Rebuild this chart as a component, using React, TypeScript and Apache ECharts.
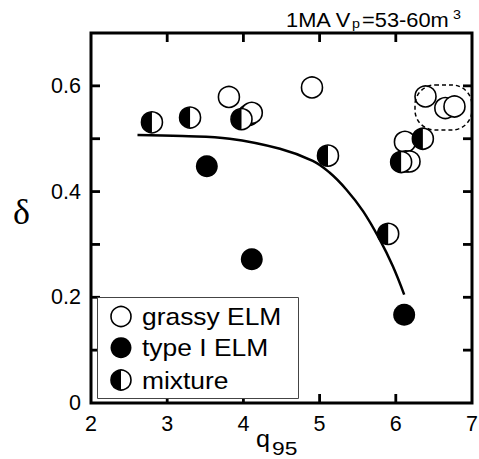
import React, { useEffect, useRef } from "react";
import * as echarts from "echarts";

// q95 and triangularity for each ELM regime
const grassyELM: [number, number][] = [
  [3.81, 0.579],
  [4.07, 0.545],
  [4.11, 0.549],
  [4.9, 0.597],
  [6.39, 0.58],
  [6.65, 0.558],
  [6.77, 0.561],
  [6.12, 0.494],
  [6.13, 0.457],
  [6.18, 0.457],
];

const typeIELM: [number, number][] = [
  [3.52, 0.448],
  [4.11, 0.272],
  [6.11, 0.167],
];

const mixtureELM: [number, number][] = [
  [2.8, 0.531],
  [3.3, 0.54],
  [3.975, 0.537],
  [5.11, 0.468],
  [5.9, 0.32],
  [6.07, 0.456],
  [6.355, 0.5],
];

// boundary curve
const boundary: [number, number][] = [
  [2.61, 0.507],
  [3.2, 0.505],
  [3.82, 0.5],
  [4.48, 0.481],
  [4.91, 0.458],
  [5.13, 0.436],
  [5.35, 0.404],
  [5.57, 0.363],
  [5.79, 0.309],
  [5.96, 0.259],
  [6.11, 0.205],
];

const xTicks = [2, 3, 4, 5, 6, 7];
const yTicks = [0, 0.1, 0.2, 0.3, 0.4, 0.5, 0.6, 0.7];
const legendLabels = ["grassy ELM", "type I ELM", "mixture"];

const SANS = "Liberation Sans, Arial, sans-serif";
const R = 10.5;
const TICK_LEN = 9;

const GRID = { left: 91, right: 7, top: 33, bottom: 56 };
const W = 479;
const H = 459;

const X_MIN = xTicks[0];
const X_MAX = xTicks[xTicks.length - 1];
const Y_MIN = yTicks[0];
const Y_MAX = yTicks[yTicks.length - 1];

const tickStyle = { stroke: "#000", lineWidth: 2.8 };

export default function App() {
  const ref = useRef<HTMLDivElement>(null);

  useEffect(() => {
    if (!ref.current) return;
    const chart = echarts.init(ref.current, null, { renderer: "svg" });

    const legendY = [316.5, 347.7, 380];
    const legendX = 121;

    chart.setOption({
      animation: false,
      backgroundColor: "#fff",
      grid: { ...GRID, containLabel: false, outerBoundsMode: "none" },
      xAxis: {
        type: "value",
        min: X_MIN,
        max: X_MAX,
        interval: 1,
        position: "bottom",
        axisLine: { show: false },
        axisTick: { show: false },
        splitLine: { show: false },
        axisLabel: { fontSize: 21.5, color: "#000", margin: 10, fontFamily: SANS },
      },
      yAxis: {
        type: "value",
        min: Y_MIN,
        max: Y_MAX,
        interval: 0.1,
        position: "left",
        axisLine: { show: false },
        axisTick: { show: false },
        splitLine: { show: false },
        axisLabel: {
          fontSize: 21.5,
          color: "#000",
          margin: 10,
          fontFamily: SANS,
          formatter: (v: number) => {
            const k = Math.round(v * 10);
            if (k % 2 !== 0) return "";
            return k === 0 ? "0" : (k / 10).toFixed(1);
          },
        },
      },
      series: [
        // inward ticks on the bottom and top edges
        {
          type: "custom",
          coordinateSystem: "cartesian2d",
          silent: true,
          data: xTicks.slice(1, -1).map((v) => [v, Y_MIN]),
          z: 6,
          renderItem: (_params: any, api: any) => {
            const lo = api.coord([api.value(0), Y_MIN]);
            const hi = api.coord([api.value(0), Y_MAX]);
            return {
              type: "group",
              children: [
                { type: "line", shape: { x1: lo[0], y1: lo[1], x2: lo[0], y2: lo[1] - TICK_LEN }, style: tickStyle },
                { type: "line", shape: { x1: hi[0], y1: hi[1], x2: hi[0], y2: hi[1] + TICK_LEN }, style: tickStyle },
              ],
            };
          },
        },
        // inward ticks on the left and right edges
        {
          type: "custom",
          coordinateSystem: "cartesian2d",
          silent: true,
          data: yTicks.slice(1, -1).map((v) => [X_MIN, v]),
          z: 6,
          renderItem: (_params: any, api: any) => {
            const lo = api.coord([X_MIN, api.value(1)]);
            const hi = api.coord([X_MAX, api.value(1)]);
            return {
              type: "group",
              children: [
                { type: "line", shape: { x1: lo[0], y1: lo[1], x2: lo[0] + TICK_LEN, y2: lo[1] }, style: tickStyle },
                { type: "line", shape: { x1: hi[0], y1: hi[1], x2: hi[0] - TICK_LEN, y2: hi[1] }, style: tickStyle },
              ],
            };
          },
        },
        {
          type: "line",
          data: boundary,
          smooth: 0.4,
          showSymbol: false,
          symbol: "none",
          lineStyle: { color: "#000", width: 2.5 },
          z: 1,
        },
        {
          type: "scatter",
          name: "grassy ELM",
          data: grassyELM,
          symbol: "circle",
          symbolSize: 2 * R,
          itemStyle: { color: "#fff", borderColor: "#000", borderWidth: 1.6, opacity: 1 },
          z: 2,
        },
        {
          type: "scatter",
          name: "type I ELM",
          data: typeIELM,
          symbol: "circle",
          symbolSize: 2 * R + 1,
          itemStyle: { color: "#000", opacity: 1 },
          z: 3,
        },
        {
          type: "custom",
          name: "mixture",
          coordinateSystem: "cartesian2d",
          data: mixtureELM,
          z: 4,
          renderItem: (_params: any, api: any) => {
            const p = api.coord([api.value(0), api.value(1)]);
            return {
              type: "group",
              children: [
                {
                  type: "circle",
                  shape: { cx: p[0], cy: p[1], r: R },
                  style: { fill: "#fff", stroke: "#000", lineWidth: 1.6 },
                },
                {
                  type: "sector",
                  shape: {
                    cx: p[0],
                    cy: p[1],
                    r0: 0,
                    r: R,
                    startAngle: Math.PI / 2,
                    endAngle: (3 * Math.PI) / 2,
                    clockwise: true,
                  },
                  style: { fill: "#000" },
                },
              ],
            };
          },
        },
      ],
      graphic: [
        // heavy frame around the plotting area
        {
          type: "rect",
          shape: { x: GRID.left, y: GRID.top, width: W - GRID.left - GRID.right, height: H - GRID.top - GRID.bottom },
          style: { fill: "none", stroke: "#000", lineWidth: 3 },
          z: 30,
        },
        // dashed outline around the high-q95 grassy cluster
        {
          type: "rect",
          shape: { x: 415, y: 85, width: 57, height: 45, r: 20 },
          style: { fill: "none", stroke: "#000", lineWidth: 1.5, lineDash: [4, 3] },
          z: 10,
        },
        // title
        {
          type: "text",
          x: 286,
          y: 20,
          scaleX: 1.12,
          style: { text: "1MA V", fontSize: 19.5, fontFamily: SANS, fill: "#000", align: "left", verticalAlign: "middle" },
        },
        {
          type: "text",
          x: 352,
          y: 24,
          scaleX: 1.1,
          style: { text: "p", fontSize: 13, fontFamily: SANS, fill: "#000", align: "left", verticalAlign: "middle" },
        },
        {
          type: "text",
          x: 362,
          y: 20,
          scaleX: 1.12,
          style: { text: "=53-60m", fontSize: 19.5, fontFamily: SANS, fill: "#000", align: "left", verticalAlign: "middle" },
        },
        {
          type: "text",
          x: 453,
          y: 14.5,
          scaleX: 1.1,
          style: { text: "3", fontSize: 13, fontFamily: SANS, fill: "#000", align: "left", verticalAlign: "middle" },
        },
        // axis titles
        {
          type: "text",
          x: 21.5,
          y: 212,
          style: {
            text: "δ",
            fontSize: 36,
            fontFamily: "Liberation Serif, Times New Roman, serif",
            fill: "#000",
            align: "center",
            verticalAlign: "middle",
          },
        },
        {
          type: "text",
          x: 256,
          y: 439,
          scaleX: 1.05,
          style: { text: "q", fontSize: 24, fontFamily: SANS, fill: "#000", align: "left", verticalAlign: "middle" },
        },
        {
          type: "text",
          x: 272,
          y: 448,
          scaleX: 1.2,
          style: { text: "95", fontSize: 19, fontFamily: SANS, fill: "#000", align: "left", verticalAlign: "middle" },
        },
        // legend
        {
          type: "rect",
          shape: { x: 97.5, y: 297.5, width: 201, height: 101 },
          style: { fill: "#fff", stroke: "#444", lineWidth: 1 },
          z: 20,
        },
        {
          type: "circle",
          shape: { cx: legendX, cy: legendY[0], r: 10 },
          style: { fill: "#fff", stroke: "#000", lineWidth: 1.6 },
          z: 21,
        },
        {
          type: "circle",
          shape: { cx: legendX, cy: legendY[1], r: 10.5 },
          style: { fill: "#000" },
          z: 21,
        },
        {
          type: "circle",
          shape: { cx: legendX, cy: legendY[2], r: 10 },
          style: { fill: "#fff", stroke: "#000", lineWidth: 1.6 },
          z: 21,
        },
        {
          type: "sector",
          shape: { cx: legendX, cy: legendY[2], r0: 0, r: 10, startAngle: Math.PI / 2, endAngle: (3 * Math.PI) / 2, clockwise: true },
          style: { fill: "#000" },
          z: 22,
        },
        ...legendLabels.map((label, i) => ({
          type: "text",
          x: 142,
          y: legendY[i],
          scaleX: 1.1,
          z: 21,
          style: { text: label, fontSize: 24, fontFamily: SANS, fill: "#000", align: "left", verticalAlign: "middle" },
        })),
      ],
    });

    return () => chart.dispose();
  }, []);

  return (
    <div
      ref={ref}
      style={{ position: "fixed", left: 0, top: 0, width: W, height: H, background: "#fff" }}
    />
  );
}
